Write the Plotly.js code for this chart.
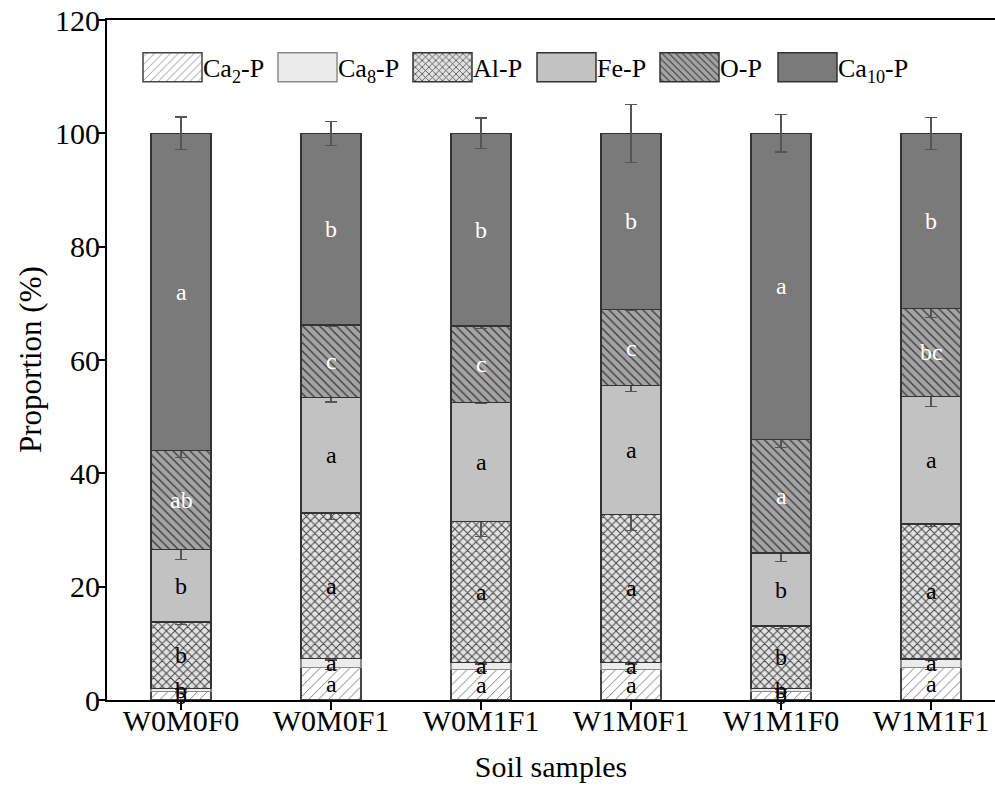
<!DOCTYPE html>
<html>
<head>
<meta charset="utf-8">
<script src="https://cdn.plot.ly/plotly-3.0.1.min.js"></script>
<style>
  html, body { margin: 0; padding: 0; background: #fff; overflow: hidden; }
  #chart { width: 995px; height: 789px; }
</style>
</head>
<body>
<div id="chart"></div>
<script>
// Phosphorus fractions (% of total P) per soil sample
const samples = ['W0M0F0', 'W0M0F1', 'W0M1F1', 'W1M0F1', 'W1M1F0', 'W1M1F1'];

const ca2P  = [1.5, 5.7, 5.4, 5.4, 1.5, 5.7];
const ca8P  = [0.55, 1.65, 1.25, 1.25, 0.55, 1.55];
const alP   = [11.75, 25.65, 24.85, 26.1, 11.05, 23.8];
const feP   = [12.75, 20.35, 21.0, 22.75, 12.8, 22.55];
const oP    = [17.5, 12.85, 13.5, 13.4, 20.1, 15.5];
const ca10P = [55.95, 33.8, 34.0, 31.1, 54.0, 30.9];

// Standard deviations
const ca2Err  = [0.2, 0.3, 0.3, 0.3, 0.2, 0.3];
const ca8Err  = [0.2, 0.3, 0.3, 0.3, 0.2, 0.3];
const alErr   = [0.45, 1.2, 2.65, 2.9, 0.45, 0.4];
const feErr   = [1.7, 0.75, 0.2, 1.1, 1.4, 1.85];
const oErr    = [1.2, 0.2, 0.5, 0.2, 1.4, 1.55];
const ca10Err = [2.9, 2.1, 2.7, 5.1, 3.3, 2.8];

// Significance letters
const ca2Sig  = ['b', 'a', 'a', 'a', 'b', 'a'];
const ca8Sig  = ['b', 'a', 'a', 'a', 'b', 'a'];
const alSig   = ['b', 'a', 'a', 'a', 'b', 'a'];
const feSig   = ['b', 'a', 'a', 'a', 'b', 'a'];
const oSig    = ['ab', 'c', 'c', 'c', 'a', 'bc'];
const ca10Sig = ['a', 'b', 'b', 'b', 'a', 'b'];

const seriesNames = ['Ca<sub>2</sub>-P', 'Ca<sub>8</sub>-P', 'Al-P', 'Fe-P', 'O-P', 'Ca<sub>10</sub>-P'];
const seriesValues = [ca2P, ca8P, alP, feP, oP, ca10P];
const seriesErrors = [ca2Err, ca8Err, alErr, feErr, oErr, ca10Err];
const seriesLetters = [ca2Sig, ca8Sig, alSig, feSig, oSig, ca10Sig];

const FONT = "'Liberation Serif', 'Times New Roman', serif";

const styles = [
  { color: '#ffffff', line: '#444', pattern: { shape: '/', bgcolor: '#ffffff', fgcolor: '#666', size: 7, solidity: 0.12 }, text: '#000' },
  { color: '#ececec', line: '#8a8a8a', pattern: null, text: '#000' },
  { color: '#dcdcdc', line: '#333', pattern: { shape: 'x', bgcolor: '#e2e2e2', fgcolor: '#444', size: 6, solidity: 0.3 }, text: '#000' },
  { color: '#c2c2c2', line: '#333', pattern: null, text: '#000' },
  { color: '#a0a0a0', line: '#333', pattern: { shape: '\\', bgcolor: '#a4a4a4', fgcolor: '#3a3a3a', size: 6, solidity: 0.22 }, text: '#fff' },
  { color: '#7a7a7a', line: '#333', pattern: null, text: '#fff' }
];

const traces = seriesValues.map((vals, i) => {
  const marker = { color: styles[i].color, line: { color: styles[i].line, width: 1.5 } };
  if (styles[i].pattern) marker.pattern = Object.assign({ fillmode: 'replace' }, styles[i].pattern);
  return {
    type: 'bar',
    name: seriesNames[i],
    x: samples,
    y: vals,
    width: 0.4,
    marker: marker,
    error_y: { type: 'data', array: seriesErrors[i], visible: true, color: '#555', thickness: 1.2, width: 6 },
    hoverinfo: 'skip'
  };
});

// Letters centred in each stacked segment
const annotations = [];
const base = samples.map(() => 0);
seriesValues.forEach((vals, i) => {
  vals.forEach((v, j) => {
    annotations.push({
      x: samples[j], y: base[j] + v / 2, xref: 'x', yref: 'y',
      text: seriesLetters[i][j], showarrow: false,
      font: { family: FONT, size: 24, color: styles[i].text },
      xanchor: 'center', yanchor: 'middle'
    });
    base[j] += v;
  });
});

// Vertical axis title
annotations.push({
  xref: 'paper', yref: 'paper', x: 0, y: 0.5, xshift: -77,
  xanchor: 'center', yanchor: 'middle', textangle: -90, showarrow: false,
  text: 'Proportion (%)', font: { family: FONT, size: 31, color: '#000' }
});

const layout = {
  width: 995, height: 789,
  margin: { l: 107, r: 0, t: 20, b: 89 },
  paper_bgcolor: '#fff', plot_bgcolor: '#fff',
  barmode: 'stack',
  showlegend: true,
  legend: {
    orientation: 'h', x: 0.04, y: 0.985, xanchor: 'left', yanchor: 'top',
    traceorder: 'normal', itemwidth: 51, bgcolor: 'rgba(0,0,0,0)',
    font: { family: FONT, size: 26, color: '#000' }
  },
  xaxis: {
    type: 'category',
    range: [-0.4933, 5.4267],
    showline: true, linecolor: '#000', linewidth: 2, mirror: true,
    ticks: 'outside', ticklen: 8, tickwidth: 2, tickcolor: '#000',
    ticklabelstandoff: -15,
    showgrid: false, zeroline: false,
    tickfont: { family: FONT, size: 30, color: '#000' },
    title: { text: 'Soil samples', font: { family: FONT, size: 30, color: '#000' }, standoff: 20 }
  },
  yaxis: {
    range: [0, 120], dtick: 20,
    showline: true, linecolor: '#000', linewidth: 2, mirror: false,
    ticks: 'outside', ticklen: 7, tickwidth: 2, tickcolor: '#000',
    ticklabelstandoff: -8,
    showgrid: false, zeroline: false,
    tickfont: { family: FONT, size: 30, color: '#000' }
  },
  annotations: annotations
};

// Legend slots: left edge of each swatch and common vertical centre (px)
const legendSlotLeft = [143, 278, 413, 537, 660, 778];
const legendRowCentre = 67.2;

Plotly.newPlot('chart', traces, layout, { displayModeBar: false, staticPlot: true }).then(gd => {
  gd.querySelectorAll('.legend .scrollbox, .legend').forEach(el => el.removeAttribute('clip-path'));
  const items = gd.querySelectorAll('.legend .traces');
  items.forEach((g, i) => {
    // wide swatch boxes
    g.querySelectorAll('.legendpoints path').forEach(p => {
      p.setAttribute('d', 'M-29.5,-14.5H29.5V14.5H-29.5Z');
    });
    const sw = g.querySelector('.legendpoints path');
    if (!sw || i >= legendSlotLeft.length) return;
    const r = sw.getBoundingClientRect();
    const dx = legendSlotLeft[i] - r.left;
    const dy = legendRowCentre - (r.top + r.bottom) / 2;
    const t = g.getAttribute('transform') || '';
    const m = /translate\(\s*([-\d.]+)[ ,]+([-\d.]+)\s*\)/.exec(t);
    const tx = m ? parseFloat(m[1]) : 0;
    const ty = m ? parseFloat(m[2]) : 0;
    g.setAttribute('transform', 'translate(' + (tx + dx) + ',' + (ty + dy) + ')');
  });
});
</script>
</body>
</html>
